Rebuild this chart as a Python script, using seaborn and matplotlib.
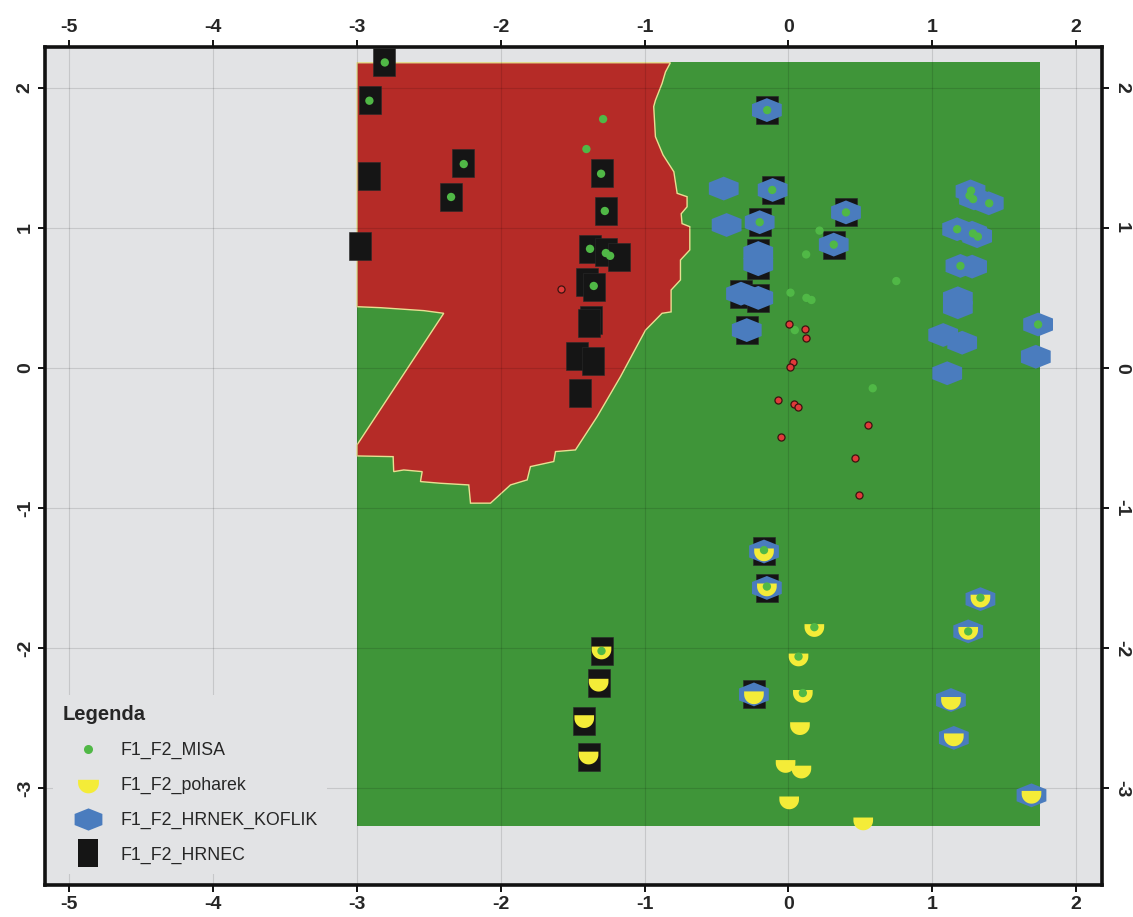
import numpy as np
import matplotlib
matplotlib.use("Agg")
import matplotlib.pyplot as plt
from matplotlib.markers import MarkerStyle
from matplotlib.lines import Line2D
import seaborn as sns

# =============================================================================
# DATA
# =============================================================================

# green class zone (rectangle extent)
green_zone_x = [-3.0, 1.75]
green_zone_ybottom = -3.27
green_zone_ytop = 2.18

# red class zone boundary
red_zone_x = [-3.0, -0.821, -0.855, -0.879, -0.925, -0.937, -0.925, -0.872, -0.797,
              -0.774, -0.705, -0.705, -0.746, -0.74, -0.686, -0.686, -0.751, -0.751,
              -0.816, -0.816, -0.879, -0.948, -0.994, -1.168, -1.33, -1.481, -1.62,
              -1.632, -1.794, -1.817, -1.933, -2.072, -2.211, -2.223, -2.42, -2.559,
              -2.547, -2.675, -2.745, -2.749, -3.0, -3.0, -2.397, -2.536, -2.837, -3.0]
red_zone_y = [2.178, 2.178, 2.113, 2.03, 1.91, 1.865, 1.65, 1.52, 1.40,
              1.246, 1.222, 1.15, 1.10, 1.03, 1.008, 0.842, 0.77, 0.628,
              0.556, 0.40, 0.39, 0.318, 0.27, -0.062, -0.347, -0.585, -0.597,
              -0.668, -0.704, -0.799, -0.835, -0.965, -0.965, -0.835, -0.823, -0.811,
              -0.74, -0.728, -0.74, -0.633, -0.628, -0.549, 0.39, 0.409, 0.43, 0.437]

hrnec_x = [-2.81, -2.91, -2.92, -2.98, -2.26, -2.35, -1.30, -1.27, -1.38, -1.27, -1.175,
           -1.40, -1.35, -1.37, -1.39, -1.47, -1.36, -1.45,
           -0.15, -0.11, -0.20, -0.21, -0.21, -0.33, -0.21, -0.29, 0.40, 0.315,
           -0.17, -0.15, -1.30, -1.32, -1.42, -1.39, -0.24]
hrnec_y = [2.18, 1.91, 1.37, 0.87, 1.46, 1.22, 1.39, 1.12, 0.85, 0.83, 0.79,
           0.615, 0.58, 0.34, 0.32, 0.085, 0.05, -0.18,
           1.84, 1.27, 1.04, 0.82, 0.735, 0.53, 0.50, 0.27, 1.11, 0.88,
           -1.31, -1.57, -2.02, -2.25, -2.52, -2.78, -2.33]

hrnek_x = [-0.15, -0.45, -0.43, -0.11, -0.20, -0.21, -0.21, -0.33, -0.21, -0.29, 0.40, 0.315,
           1.266, 1.29, 1.393, 1.173, 1.277, 1.312, 1.196, 1.277, 1.178, 1.178, 1.076,
           1.208, 1.104, 1.736, 1.72,
           -0.17, -0.15, 1.335, 1.25, -0.24, 1.13, 1.15, 1.69]
hrnek_y = [1.84, 1.28, 1.02, 1.27, 1.04, 0.82, 0.74, 0.53, 0.50, 0.27, 1.11, 0.88,
           1.26, 1.21, 1.175, 0.99, 0.965, 0.94, 0.728, 0.723, 0.497, 0.433, 0.235,
           0.18, -0.038, 0.31, 0.08,
           -1.31, -1.57, -1.65, -1.88, -2.33, -2.37, -2.64, -3.05]

poharek_x = [-0.17, -0.15, 0.18, 0.07, 0.10, 0.08, -0.02, 0.09, 0.005, 0.52,
             -1.30, -1.32, -1.42, -1.39, -0.24, 1.335, 1.25, 1.13, 1.15, 1.69]
poharek_y = [-1.32, -1.57, -1.86, -2.07, -2.33, -2.56, -2.83, -2.87, -3.09, -3.24,
             -2.02, -2.25, -2.51, -2.77, -2.34, -1.65, -1.88, -2.38, -2.64, -3.05]

misa_x = [-2.807, -2.914, -2.258, -2.346, -1.289, -1.405, -1.303, -1.277, -1.38, -1.27,
          -1.24, -1.354,
          -0.148, -0.113, -0.20, 0.40, 0.315, 0.216, 0.123, 0.75, 0.014, 0.125, 0.16,
          0.044, 0.586,
          1.27, 1.259, 1.284, 1.396, 1.173, 1.283, 1.317, 1.196, 1.736,
          -0.17, -0.15, 0.18, 0.07, 0.10, -1.30, 1.335, 1.25]
misa_y = [2.18, 1.907, 1.455, 1.22, 1.776, 1.562, 1.386, 1.12, 0.85, 0.82,
          0.80, 0.585,
          1.84, 1.27, 1.04, 1.11, 0.88, 0.98, 0.81, 0.62, 0.537, 0.50, 0.485,
          0.27, -0.145,
          1.265, 1.23, 1.205, 1.175, 0.99, 0.96, 0.937, 0.728, 0.31,
          -1.30, -1.56, -1.85, -2.06, -2.32, -2.02, -1.64, -1.88]

# points not in the legend (small red dots)
other_x = [-1.58, 0.002, 0.113, 0.123, 0.03, 0.01, -0.074, 0.037, 0.065, -0.05,
           0.554, 0.466, 0.494]
other_y = [0.56, 0.31, 0.276, 0.216, 0.045, 0.005, -0.23, -0.26, -0.28, -0.49,
           -0.41, -0.645, -0.91]

legend_labels = ["F1_F2_MISA", "F1_F2_poharek", "F1_F2_HRNEK_KOFLIK", "F1_F2_HRNEC"]
x_ticks = [-5, -4, -3, -2, -1, 0, 1, 2]
y_ticks = [-3, -2, -1, 0, 1, 2]

# =============================================================================
# STYLE
# =============================================================================

BG = "#E2E3E5"
RED = "#B52B27"
GREEN = "#3F9539"
MISA_C = "#50B846"
BLUE = "#4A7CBE"
YELLOW = "#F4EC38"
BLACK = "#151515"

sns.set_theme(style="ticks")
plt.rcParams["font.family"] = ["Liberation Sans", "DejaVu Sans"]
plt.rcParams["axes.unicode_minus"] = False

# custom marker shapes
hex_verts = [(0, 0.8), (1, 0.4), (1, -0.4), (0, -0.8), (-1, -0.4), (-1, 0.4), (0, 0.8)]
rect_verts = [(-0.74, -1), (0.74, -1), (0.74, 1), (-0.74, 1), (-0.74, -1)]
t = np.linspace(0, np.pi, 30)
half_verts = ([(-1, 0.45), (1, 0.45), (1, 0.15)]
              + [(np.cos(a), 0.15 - np.sin(a)) for a in t]
              + [(-1, 0.15), (-1, 0.45)])
HEX = MarkerStyle(hex_verts)
RECT = MarkerStyle(rect_verts)
HALF = MarkerStyle(half_verts)

# =============================================================================
# FIGURE
# =============================================================================

fig = plt.figure(figsize=(11.33, 9.17), dpi=100)
ax = fig.add_axes([0.0397, 0.0349, 0.9329, 0.9138])
ax.set_facecolor(BG)

# class zones
ax.fill_between(green_zone_x, green_zone_ybottom, green_zone_ytop,
                color=GREEN, linewidth=0, zorder=0.2)
ax.fill(red_zone_x, red_zone_y, facecolor=RED, edgecolor="#E8DF92",
        linewidth=1.0, zorder=0.3)

# point layers
sns.scatterplot(x=hrnec_x, y=hrnec_y, marker=RECT, s=420, color=BLACK,
                edgecolor="#2a2a2a", linewidth=0.4, ax=ax, zorder=3)
sns.scatterplot(x=hrnek_x, y=hrnek_y, marker=HEX, s=460, color=BLUE,
                edgecolor="none", linewidth=0, ax=ax, zorder=4)
sns.scatterplot(x=poharek_x, y=poharek_y, marker=HALF, s=200, color=YELLOW,
                edgecolor="none", linewidth=0, ax=ax, zorder=5)
sns.scatterplot(x=misa_x, y=misa_y, marker="o", s=36, color=MISA_C,
                edgecolor="none", linewidth=0, ax=ax, zorder=6)
sns.scatterplot(x=other_x, y=other_y, marker="o", s=26, color="#E03A3A",
                edgecolor="#3a1410", linewidth=0.9, ax=ax, zorder=7)

# axes
ax.set_xlim(-5.17, 2.18)
ax.set_ylim(-3.69, 2.29)
ax.set_xticks(x_ticks)
ax.set_yticks(y_ticks)
ax.set_xlabel("")
ax.set_ylabel("")
ax.grid(True, color="black", alpha=0.12, linewidth=0.8)
ax.set_axisbelow(True)

for side in ["top", "bottom", "left", "right"]:
    ax.spines[side].set_visible(True)
    ax.spines[side].set_linewidth(2.6)
    ax.spines[side].set_color("#111111")

ax.tick_params(top=True, right=True, labeltop=True, labelright=True,
               direction="out", length=5, width=1.4, color="#111111",
               labelsize=14, pad=3)
for lab in ax.get_xticklabels() + ax.get_yticklabels():
    lab.set_fontweight("bold")
for tk in ax.xaxis.get_major_ticks():
    tk.label2.set_fontweight("bold")
for tk in ax.yaxis.get_major_ticks():
    tk.label1.set_rotation(90)
    tk.label1.set_va("center")
    tk.label2.set_rotation(-90)
    tk.label2.set_va("center")
    tk.label2.set_fontweight("bold")

# legend
handles = [
    Line2D([], [], linestyle="none", marker="o", markersize=6.5,
           markerfacecolor=MISA_C, markeredgewidth=0),
    Line2D([], [], linestyle="none", marker=HALF, markersize=15,
           markerfacecolor=YELLOW, markeredgewidth=0),
    Line2D([], [], linestyle="none", marker=HEX, markersize=20,
           markerfacecolor=BLUE, markeredgewidth=0),
    Line2D([], [], linestyle="none", marker=RECT, markersize=20,
           markerfacecolor=BLACK, markeredgewidth=0),
]
leg = ax.legend(handles, legend_labels, title="Legenda", loc="lower left",
                bbox_to_anchor=(0.0075, 0.0135), borderaxespad=0,
                frameon=True, facecolor=BG, edgecolor="none", framealpha=1,
                fancybox=False, fontsize=12.8, title_fontsize=14.5,
                labelspacing=1.0, handlelength=2.8, handletextpad=0.45,
                borderpad=0.55)
leg.get_title().set_fontweight("bold")
leg._legend_box.align = "left"
leg.set_zorder(10)

fig.savefig("out.png", dpi=100)
